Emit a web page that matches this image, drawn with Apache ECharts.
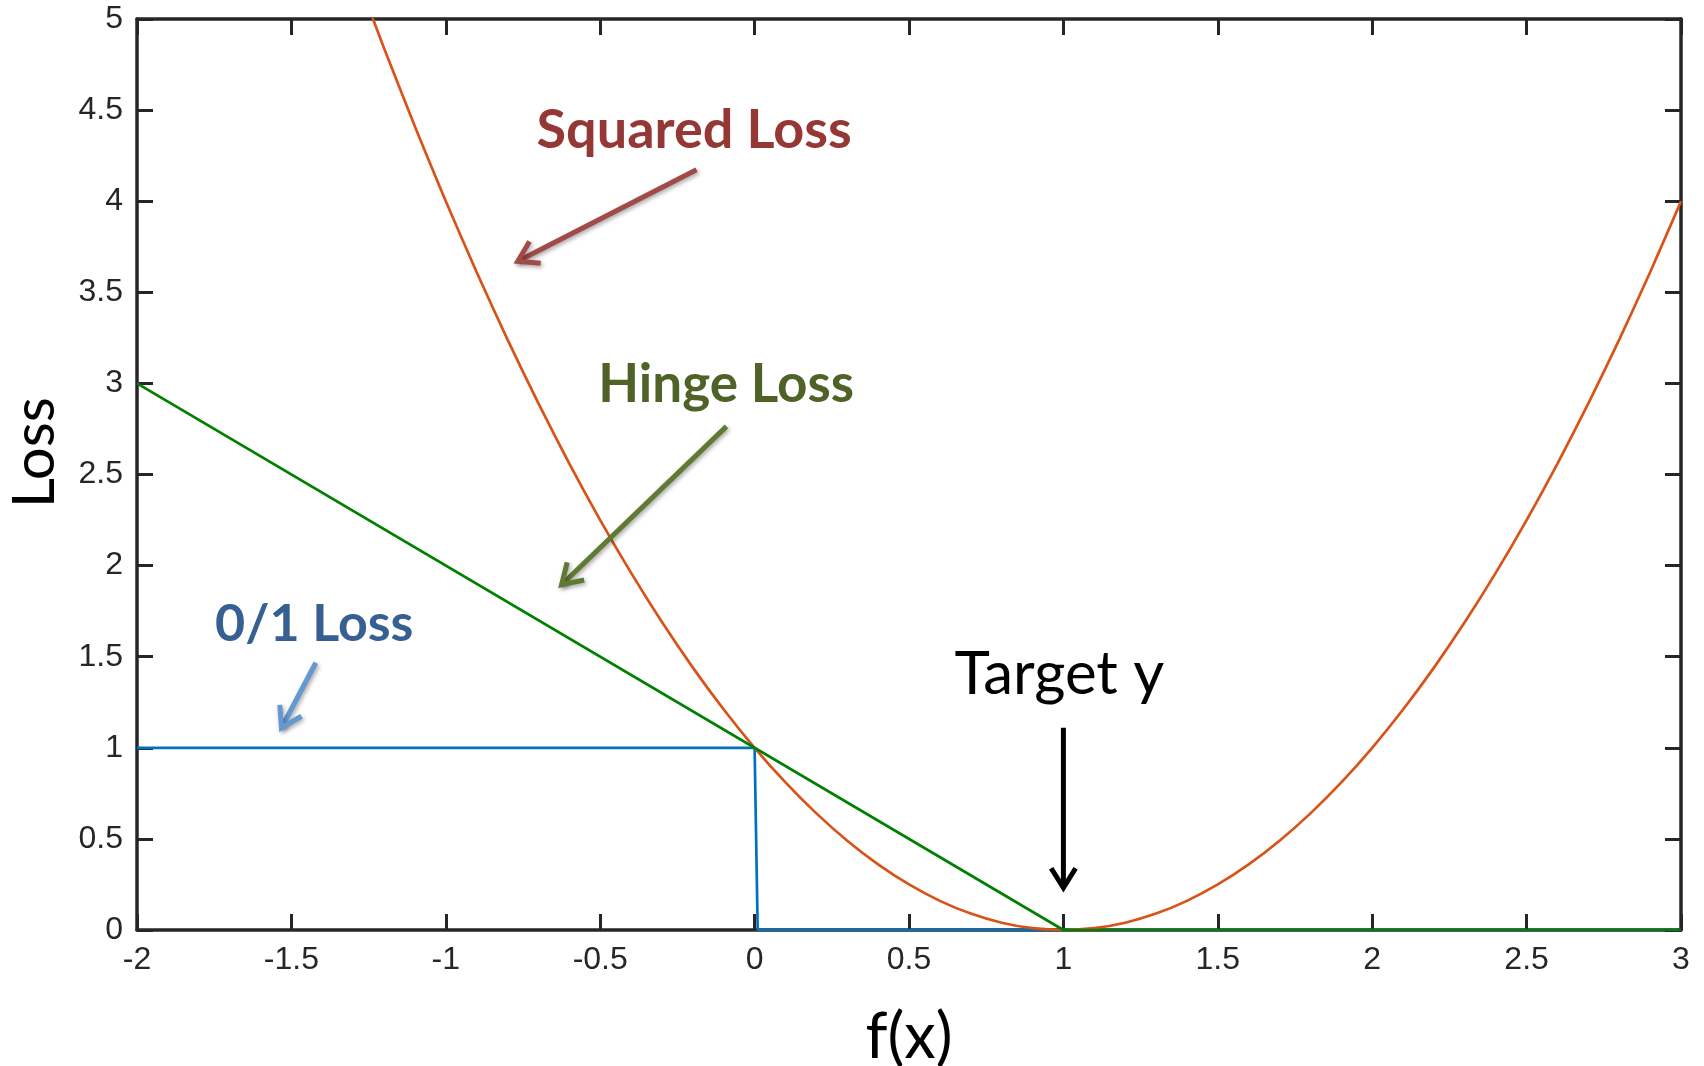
<!DOCTYPE html>
<html>
<head>
<meta charset="utf-8">
<title>Loss functions</title>
<script src="https://cdn.jsdelivr.net/npm/echarts@6/dist/echarts.min.js"></script>
<style>
  html, body { margin: 0; padding: 0; background: #ffffff; }
  #chart { width: 1704px; height: 1066px; }
</style>
</head>
<body>
<div id="chart"></div>
<script>
// f(x) sample positions and the three losses read at them
const squaredX = [-1.3, -1.2, -1.1, -1.0, -0.9, -0.8, -0.7, -0.6, -0.5, -0.4, -0.3, -0.2, -0.1,
  0.0, 0.1, 0.2, 0.3, 0.4, 0.5, 0.6, 0.7, 0.8, 0.9, 1.0, 1.1, 1.2, 1.3, 1.4, 1.5, 1.6, 1.7,
  1.8, 1.9, 2.0, 2.1, 2.2, 2.3, 2.4, 2.5, 2.6, 2.7, 2.8, 2.9, 3.0];
const squaredY = [5.29, 4.84, 4.41, 4.00, 3.61, 3.24, 2.89, 2.56, 2.25, 1.96, 1.69, 1.44, 1.21,
  1.00, 0.81, 0.64, 0.49, 0.36, 0.25, 0.16, 0.09, 0.04, 0.01, 0.00, 0.01, 0.04, 0.09, 0.16, 0.25, 0.36, 0.49,
  0.64, 0.81, 1.00, 1.21, 1.44, 1.69, 1.96, 2.25, 2.56, 2.89, 3.24, 3.61, 4.00];
const hingeX = [-2, 1, 3];
const hingeY = [3, 0, 0];
const zeroOneX = [-2, 0, 0.01, 3];
const zeroOneY = [1, 1, 0, 0];

// axis ranges and ticks
const xMin = -2, xMax = 3, xStep = 0.5;
const yMin = 0, yMax = 5, yStep = 0.5;

// callout texts, positioned in data space
const calloutText = ['Squared Loss', 'Hinge Loss', '0/1 Loss', 'Target y'];
const calloutAt = [[-0.196, 4.385], [-0.092, 2.990], [-1.426, 1.680], [0.987, 1.402]];
// callout arrows: tail and tip in data space
const arrowFrom = [[-0.188, 4.173], [-0.091, 2.764], [-1.421, 1.467], [1.0, 1.110]];
const arrowTo = [[-0.767, 3.670], [-0.625, 1.895], [-1.532, 1.110], [1.0, 0.232]];

const calloutStyle = [
  { color: '#953735', arrow: '#a24a47', weight: 'bold', size: 54 },
  { color: '#4f6228', arrow: '#617a33', weight: 'bold', size: 53 },
  { color: '#366092', arrow: '#6498d0', weight: 'bold', size: 52 },
  { color: '#000000', arrow: '#000000', weight: 'normal', size: 60 }
];

const pair = (xs, ys) => xs.map((x, i) => [x, ys[i]]);

const axisColor = '#262626';
const tickFont = { fontFamily: 'Liberation Sans', fontSize: 32, color: axisColor };

const chart = echarts.init(document.getElementById('chart'), null, { renderer: 'canvas' });

function valueAxis(extra) {
  return Object.assign({
    type: 'value',
    splitLine: { show: false },
    axisLine: { show: true, onZero: false, lineStyle: { color: axisColor, width: 3.5 } },
    axisTick: { show: true, inside: true, length: 16, lineStyle: { color: axisColor, width: 3 } }
  }, extra);
}

chart.setOption({
  animation: false,
  backgroundColor: '#ffffff',
  grid: { left: 137, right: 23, top: 19, bottom: 136, containLabel: false, outerBoundsMode: 'none' },
  xAxis: [
    valueAxis({
      position: 'bottom', min: xMin, max: xMax, interval: xStep,
      axisLabel: Object.assign({ margin: 14, formatter: v => String(v) }, tickFont),
      name: 'f(x)', nameLocation: 'middle', nameGap: 76,
      nameTextStyle: { fontFamily: 'Lato', fontSize: 63, color: '#000000' }
    }),
    valueAxis({
      position: 'top', min: xMin, max: xMax, interval: xStep,
      axisLabel: { show: false }
    })
  ],
  yAxis: [
    valueAxis({
      position: 'left', min: yMin, max: yMax, interval: yStep,
      axisLabel: Object.assign({ margin: 14, formatter: v => String(v) }, tickFont),
      name: 'Loss', nameLocation: 'middle', nameGap: 73, nameRotate: 90,
      nameTextStyle: { fontFamily: 'Lato', fontSize: 58, color: '#000000', padding: [0, 0, 0, 44] }
    }),
    valueAxis({
      position: 'right', min: yMin, max: yMax, interval: yStep,
      axisLabel: { show: false }
    })
  ],
  series: [
    {
      name: '0/1 Loss', type: 'line', xAxisIndex: 0, yAxisIndex: 0,
      data: pair(zeroOneX, zeroOneY), showSymbol: false, symbol: 'none', clip: true,
      lineStyle: { color: '#0072bd', width: 2.7 }
    },
    {
      name: 'Squared Loss', type: 'line', xAxisIndex: 0, yAxisIndex: 0,
      data: pair(squaredX, squaredY), showSymbol: false, symbol: 'none', clip: true, smooth: 0.2,
      lineStyle: { color: '#d95319', width: 2.7 }
    },
    {
      name: 'Hinge Loss', type: 'line', xAxisIndex: 0, yAxisIndex: 0,
      data: pair(hingeX, hingeY), showSymbol: false, symbol: 'none', clip: true,
      lineStyle: { color: '#008000', width: 2.7 }
    }
  ]
});

// Callout labels and arrows, placed from data coordinates
function toPx(p) {
  return chart.convertToPixel({ xAxisIndex: 0, yAxisIndex: 0 }, p);
}

const graphics = [];
calloutText.forEach((txt, i) => {
  const st = calloutStyle[i];
  const c = toPx(calloutAt[i]);
  graphics.push({
    type: 'text', x: c[0], y: c[1], z: 100,
    style: {
      text: txt, fill: st.color, align: 'center', verticalAlign: 'middle',
      font: st.weight + ' ' + st.size + 'px Lato'
    }
  });

  const a = toPx(arrowFrom[i]);
  const b = toPx(arrowTo[i]);
  const ang = Math.atan2(b[1] - a[1], b[0] - a[0]);
  const headLen = 23, spread = Math.PI / 5.6;
  const h1 = [b[0] - headLen * Math.cos(ang - spread), b[1] - headLen * Math.sin(ang - spread)];
  const h2 = [b[0] - headLen * Math.cos(ang + spread), b[1] - headLen * Math.sin(ang + spread)];
  const shadow = i < 3 ? { shadowBlur: 4, shadowColor: 'rgba(0,0,0,0.35)', shadowOffsetX: 1.5, shadowOffsetY: 2 } : {};
  graphics.push({
    type: 'polyline', z: 99,
    shape: { points: [a, b] },
    style: Object.assign({ stroke: st.arrow, lineWidth: 5, fill: null, lineCap: 'butt' }, shadow)
  });
  graphics.push({
    type: 'polyline', z: 99,
    shape: { points: [h1, b, h2] },
    style: Object.assign({ stroke: st.arrow, lineWidth: 5, fill: null, lineJoin: 'miter', lineCap: 'butt' }, shadow)
  });
});

chart.setOption({ graphic: graphics });
</script>
</body>
</html>
